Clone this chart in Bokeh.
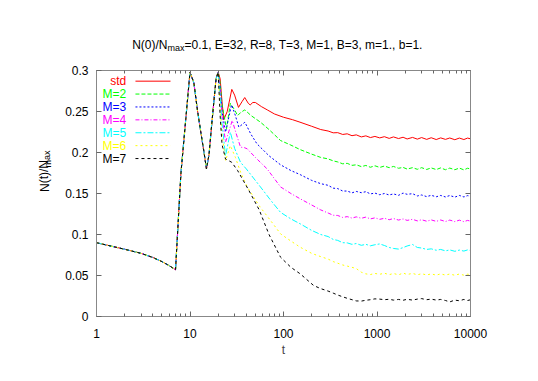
from bokeh.plotting import figure
from bokeh.models import FixedTicker, LogAxis, LinearAxis, Range1d, CustomJSTickFormatter
from bokeh.layouts import column, row
from bokeh.core.properties import value
from bokeh.embed import file_html
from bokeh.resources import INLINE

# ---------------- data ----------------
SERIES = ["std", "M=2", "M=3", "M=4", "M=5", "M=6", "M=7"]
COLORS = ["#ff0000", "#00ff00", "#0000ff", "#ff00ff", "#00ffff", "#ffff00", "#000000"]
DASHES = ["solid", "4 2", "2 2", "4 2 1 2", "6 2 2 2", "2 3", "3 3"]

T_EARLY = [1, 2, 3, 4, 5, 6, 7, 8, 9, 10, 11, 12, 13, 14, 15, 16, 17, 18, 19, 20]
V_EARLY = [0.090, 0.082, 0.077, 0.072, 0.067, 0.062, 0.057, 0.175, 0.240, 0.298,
           0.285, 0.252, 0.226, 0.203, 0.180, 0.198, 0.232, 0.262, 0.290, 0.298]

T_STD = [21, 22, 23, 25, 28, 30, 33, 36, 38.5, 42, 44, 47, 50, 58, 67, 80, 100, 125, 150, 200, 250]
V_STD = [0.290, 0.262, 0.240, 0.250, 0.277, 0.270, 0.255, 0.262, 0.267, 0.260, 0.258, 0.261,
         0.261, 0.256, 0.252, 0.247, 0.243, 0.240, 0.237, 0.232, 0.228]

T_M2 = [21, 22, 24.6, 27, 30, 32.3, 35, 38.6, 45, 56.7, 70, 93, 120, 151, 200, 250]
V_M2 = [0.285, 0.258, 0.229, 0.260, 0.252, 0.245, 0.249, 0.252, 0.245, 0.237, 0.228, 0.2146,
        0.209, 0.2035, 0.198, 0.194]

T_M3 = [21, 22, 24, 27.8, 30, 33.3, 36, 38.6, 45, 52, 70, 93, 120, 151, 200, 250]
V_M3 = [0.280, 0.250, 0.2248, 0.258, 0.248, 0.231, 0.234, 0.237, 0.222, 0.2106, 0.196, 0.185,
        0.178, 0.173, 0.166, 0.162]

T_M4 = [21, 22, 24, 28.3, 31, 34.7, 38, 40.9, 50, 66.8, 93, 120, 151, 200, 250]
V_M4 = [0.275, 0.245, 0.2126, 0.239, 0.224, 0.2065, 0.206, 0.2045, 0.194, 0.180, 0.158, 0.150,
        0.1435, 0.136, 0.130]

T_M5 = [21, 22, 24, 27, 30, 34.7, 40, 56.7, 75, 93, 120, 151, 200, 250]
V_M5 = [0.268, 0.235, 0.196, 0.2248, 0.205, 0.188, 0.180, 0.158, 0.140, 0.127, 0.119, 0.113,
        0.105, 0.100]

T_M6 = [21, 22, 24, 27, 30.6, 35, 40.9, 55, 75, 93, 120, 151, 200, 250]
V_M6 = [0.255, 0.222, 0.190, 0.2085, 0.194, 0.175, 0.158, 0.135, 0.115, 0.1008, 0.092, 0.0845,
        0.077, 0.073]

T_M7 = [21, 22, 24, 26, 28, 32.3, 42.5, 55, 70, 93, 120, 151, 210, 250]
V_M7 = [0.245, 0.210, 0.192, 0.190, 0.188, 0.178, 0.154, 0.130, 0.100, 0.0723, 0.060, 0.052,
        0.0378, 0.034]

T_TAIL = [300, 340, 380, 430, 480, 540, 600, 680, 760, 850, 950, 1070, 1200, 1350, 1500, 1700,
          1900, 2100, 2400, 2700, 3000, 3400, 3800, 4300, 4800, 5400, 6000, 6800, 7600, 8500,
          9300, 10000]
TAIL_STD = [0.2262, 0.2240, 0.2242, 0.2220, 0.2228, 0.2205, 0.2215, 0.2190, 0.2203, 0.2182,
            0.2196, 0.2178, 0.2193, 0.2172, 0.2190, 0.2170, 0.2186, 0.2165, 0.2184, 0.2163,
            0.2182, 0.2160, 0.2180, 0.2158, 0.2178, 0.2160, 0.2177, 0.2156, 0.2176, 0.2158,
            0.2176, 0.2167]
TAIL_M2 = [0.1922, 0.1898, 0.1885, 0.1862, 0.1868, 0.1843, 0.1850, 0.1828, 0.1842, 0.1820,
           0.1838, 0.1818, 0.1835, 0.1815, 0.1830, 0.1808, 0.1818, 0.1798, 0.1815, 0.1795,
           0.1815, 0.1793, 0.1812, 0.1792, 0.1812, 0.1790, 0.1810, 0.1790, 0.1810, 0.1788,
           0.1808, 0.1800]
TAIL_M3 = [0.1600, 0.1565, 0.1560, 0.1530, 0.1530, 0.1508, 0.1525, 0.1510, 0.1522, 0.1495,
           0.1505, 0.1485, 0.1500, 0.1482, 0.1495, 0.1478, 0.1505, 0.1490, 0.1498, 0.1470,
           0.1482, 0.1462, 0.1478, 0.1460, 0.1476, 0.1458, 0.1475, 0.1456, 0.1476, 0.1458,
           0.1474, 0.1467]
TAIL_M4 = [0.1262, 0.1235, 0.1232, 0.1208, 0.1218, 0.1200, 0.1215, 0.1198, 0.1212, 0.1190,
           0.1203, 0.1185, 0.1198, 0.1180, 0.1195, 0.1176, 0.1190, 0.1172, 0.1185, 0.1166,
           0.1180, 0.1162, 0.1178, 0.1160, 0.1177, 0.1158, 0.1176, 0.1157, 0.1175, 0.1156,
           0.1172, 0.1163]
TAIL_M5 = [0.0975, 0.0940, 0.0928, 0.0900, 0.0898, 0.0880, 0.0890, 0.0868, 0.0880, 0.0862,
           0.0875, 0.0885, 0.0866, 0.0842, 0.0830, 0.0822, 0.0840, 0.0860, 0.0878, 0.0842,
           0.0835, 0.0818, 0.0825, 0.0808, 0.0818, 0.0800, 0.0812, 0.0795, 0.0810, 0.0798,
           0.0812, 0.0805]
TAIL_M6 = [0.0700, 0.0670, 0.0650, 0.0628, 0.0615, 0.0600, 0.0585, 0.0540, 0.0520, 0.0512,
           0.0525, 0.0515, 0.0528, 0.0510, 0.0525, 0.0508, 0.0530, 0.0512, 0.0526, 0.0508,
           0.0522, 0.0506, 0.0520, 0.0504, 0.0520, 0.0505, 0.0518, 0.0503, 0.0518, 0.0504,
           0.0516, 0.0512]
TAIL_M7 = [0.0310, 0.0285, 0.0262, 0.0240, 0.0222, 0.0205, 0.0190, 0.0188, 0.0198, 0.0205,
           0.0215, 0.0212, 0.0205, 0.0210, 0.0200, 0.0208, 0.0198, 0.0210, 0.0200, 0.0212,
           0.0218, 0.0205, 0.0212, 0.0200, 0.0208, 0.0195, 0.0178, 0.0200, 0.0192, 0.0208,
           0.0195, 0.0204]

X_TICKS = [1, 10, 100, 1000, 10000]
Y_TICKS = [0, 0.05, 0.1, 0.15, 0.2, 0.25, 0.3]

TITLE_MAIN = "N(0)/N"
TITLE_SUB = "max"
TITLE_REST = "=0.1, E=32, R=8, T=3, M=1, B=3, m=1., b=1."
YLAB_MAIN = "N(t)/N"
YLAB_SUB = "max"
XLAB = "t"

MID_T = [T_STD, T_M2, T_M3, T_M4, T_M5, T_M6, T_M7]
MID_V = [V_STD, V_M2, V_M3, V_M4, V_M5, V_M6, V_M7]
TAILS = [TAIL_STD, TAIL_M2, TAIL_M3, TAIL_M4, TAIL_M5, TAIL_M6, TAIL_M7]

FONT = "Liberation Sans"
TITLE_H = 58
MAIN_H = 381 - TITLE_H

# ---------------- main figure ----------------
p = figure(width=482, height=MAIN_H, x_axis_type="log",
           x_range=Range1d(1, 10000), y_range=Range1d(0, 0.3),
           output_backend="svg", toolbar_location=None, title=None,
           min_border_left=40, min_border_right=68, min_border_top=70 - TITLE_H,
           min_border_bottom=65)
p.grid.visible = False
p.outline_line_color = "#999999"

minor = [m * d for d in [1, 10, 100, 1000] for m in range(2, 10)]
lab_fmt = CustomJSTickFormatter(code="return String(Math.round(tick*100)/100);")


def style_axis(ax, labels=True):
    ax.axis_line_color = "#888888"
    ax.major_tick_line_color = "#666666"
    ax.minor_tick_line_color = "#666666"
    ax.major_tick_in = 5
    ax.major_tick_out = 0
    ax.minor_tick_in = 3
    ax.minor_tick_out = 0
    ax.major_label_text_font = FONT
    ax.major_label_text_color = "black"
    if labels:
        ax.major_label_text_font_size = "12px"
        ax.major_label_standoff = 8
    else:
        ax.major_label_text_font_size = "0px"
        ax.major_label_standoff = 0


xa = p.xaxis[0]
xa.ticker = FixedTicker(ticks=X_TICKS, minor_ticks=minor)
xa.formatter = lab_fmt
style_axis(xa)
xa.major_label_standoff = 12
xa.axis_label = XLAB
xa.axis_label_text_font = FONT
xa.axis_label_text_font_size = "12px"
xa.axis_label_text_font_style = "normal"
xa.axis_label_standoff = 2

ya = p.yaxis[0]
ya.ticker = FixedTicker(ticks=Y_TICKS)
ya.formatter = lab_fmt
style_axis(ya)
ya.minor_tick_line_color = None

top = LogAxis(ticker=FixedTicker(ticks=X_TICKS, minor_ticks=minor),
              formatter=CustomJSTickFormatter(code="return '';"))
style_axis(top, labels=False)
p.add_layout(top, "above")
right = LinearAxis(ticker=FixedTicker(ticks=Y_TICKS),
                   formatter=CustomJSTickFormatter(code="return '';"))
style_axis(right, labels=False)
right.minor_tick_line_color = None
p.add_layout(right, "right")

# curves
for name, col, dash, tm, vm, tail in zip(SERIES, COLORS, DASHES, MID_T, MID_V, TAILS):
    t = T_EARLY + tm + T_TAIL
    v = V_EARLY + vm + tail
    p.line(t, v, line_color=col, line_width=1, line_dash=dash)

# legend: text on the left, line sample on the right
LEG_TEXT_X = 2.08
LEG_L0, LEG_L1 = 2.61, 6.19
LEG_TOP = 0.287
LEG_STEP = 0.01573
for i, (name, col, dash) in enumerate(zip(SERIES, COLORS, DASHES)):
    yy = LEG_TOP - i * LEG_STEP
    p.text(x=[LEG_TEXT_X], y=[yy], text=[name], text_color=col,
           text_font=value(FONT), text_font_size="12px",
           text_align="right", text_baseline="middle")
    p.line([LEG_L0, LEG_L1], [yy, yy], line_color=col, line_width=1, line_dash=dash)


def blank_fig(w, h):
    f = figure(width=w, height=h, x_range=Range1d(0, w), y_range=Range1d(0, h),
               x_axis_type=None, y_axis_type=None, output_backend="svg",
               toolbar_location=None, title=None, min_border=0)
    f.grid.visible = False
    f.outline_line_color = None
    return f


# ---------------- title strip (pixel-like coordinates) ----------------
tf = blank_fig(538, TITLE_H)
TX, TY = 167, TITLE_H - 44
tf.text(x=[TX], y=[TY], text=[TITLE_MAIN], text_font=value(FONT), text_font_size="12px",
        text_align="right", text_baseline="alphabetic", text_color="black")
tf.text(x=[TX], y=[TY - 3], text=[TITLE_SUB], text_font=value(FONT), text_font_size="9px",
        text_align="left", text_baseline="alphabetic", text_color="black")
tf.text(x=[TX + 17], y=[TY], text=[TITLE_REST], text_font=value(FONT), text_font_size="12px",
        text_align="left", text_baseline="alphabetic", text_color="black")

# ---------------- y-label strip ----------------
yf = blank_fig(56, MAIN_H)
YX, YY = 44, MAIN_H - (217.5 - TITLE_H)
yf.text(x=[YX], y=[YY], text=[YLAB_MAIN], angle=1.5708, text_font=value(FONT),
        text_font_size="12px", text_align="left", text_baseline="middle", text_color="black")
yf.text(x=[YX + 3], y=[YY + 32], text=[YLAB_SUB], angle=1.5708, text_font=value(FONT),
        text_font_size="9px", text_align="left", text_baseline="middle", text_color="black")

layout = column(tf, row(yf, p, spacing=0), spacing=0)
open("out.html", "w").write(file_html(layout, INLINE))
